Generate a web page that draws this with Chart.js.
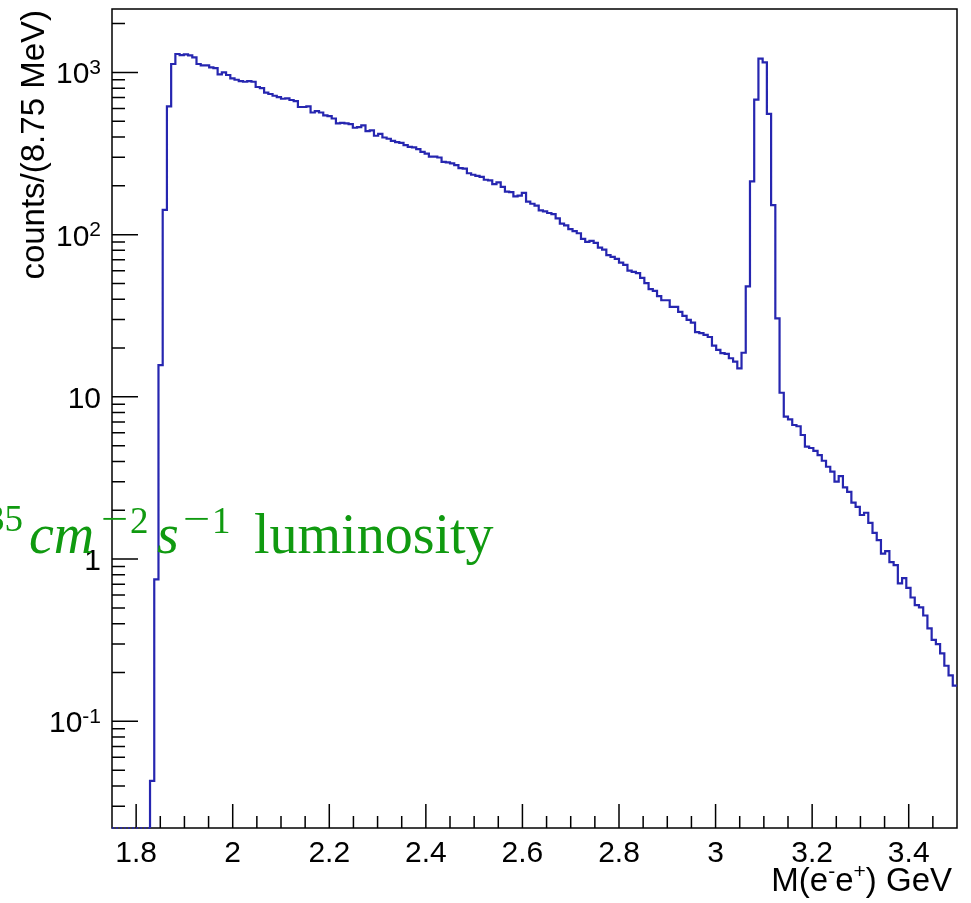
<!DOCTYPE html>
<html>
<head>
<meta charset="utf-8">
<script src="https://cdn.jsdelivr.net/npm/chart.js@4.4.1/dist/chart.umd.min.js"></script>
<style>
  html, body { margin: 0; padding: 0; background: #fff; }
  #wrap { width: 971px; height: 903px; }
</style>
</head>
<body>
<div id="wrap"><canvas id="chart" width="971" height="903"></canvas></div>
<script>
// 200 bins of 8.75 MeV between 1.75 and 3.5 GeV
const xMin = 1.75;
const xMax = 3.5;
const binWidth = 0.00875;

// counts per bin (0 = empty bin)
const counts = [
  0, 0, 0, 0, 0, 0, 0, 0, 0, 0.043,
  0.75, 15.7, 142, 617, 1127, 1299, 1280, 1291, 1273, 1237,
  1127, 1105, 1105, 1074, 1064, 972, 1000, 964, 918, 901,
  885, 876, 885, 876, 813, 801, 750, 736, 718, 705,
  688, 691, 676, 666, 612, 612, 617, 566, 578, 566,
  543, 538, 520, 485, 489, 485, 480, 456, 460, 471,
  435, 439, 407, 418, 397, 390, 379, 372, 368, 356,
  348, 345, 337, 324, 316, 303, 303, 299, 281, 279,
  275, 268, 257, 255, 239, 234, 230, 227, 218, 216,
  205, 210, 197, 184, 183, 172, 174, 181, 160, 155,
  151, 141, 139, 136, 134, 126, 117, 114, 108, 105,
  102, 94.2, 90.3, 91.6, 89.0, 83.2, 80.9, 74.7, 72.9, 70.9,
  67.3, 65.1, 60.0, 58.9, 57.9, 54.1, 50.3, 46.2, 45.0, 41.8,
  39.4, 39.4, 35.9, 35.9, 33.4, 31.6, 29.8, 28.7, 25.1, 24.7,
  24.1, 23.4, 20.7, 19.5, 18.6, 18.4, 17.3, 16.5, 15.0, 18.7,
  48.0, 213, 679, 1215, 1153, 556, 152, 30.5, 10.6, 7.55,
  7.27, 6.71, 6.59, 5.82, 4.93, 4.84, 4.64, 4.38, 4.04, 3.71,
  3.46, 3.00, 3.25, 2.77, 2.60, 2.23, 2.10, 1.87, 1.93, 1.67,
  1.45, 1.31, 1.08, 1.12, 0.958, 0.918, 0.708, 0.763, 0.665, 0.580,
  0.520, 0.504, 0.449, 0.374, 0.318, 0.299, 0.262, 0.220, 0.192, 0.166
];

const xMajorTicks = [1.8, 2.0, 2.2, 2.4, 2.6, 2.8, 3.0, 3.2, 3.4];
const xTickLabels = ['1.8', '2', '2.2', '2.4', '2.6', '2.8', '3', '3.2', '3.4'];
const yMajorTicks = [0.1, 1, 10, 100, 1000];
const yTickLabels = [['10', '-1'], ['1', ''], ['10', ''], ['10', '2'], ['10', '3']];
const yMin = 0.022;
const yMax = 2460;

const xTitle = ['M(e', '-', 'e', '+', ') GeV'];
const yTitle = 'counts/(8.75 MeV)';

const lineColor = '#2626b0';
const noteColor = '#109a10';

// histogram as a step line: one point per low edge, plus the closing edge
const FLOOR = 1e-4;
const histPoints = counts.map((c, i) => ({ x: xMin + i * binWidth, y: c > 0 ? c : FLOOR }));
histPoints.push({ x: xMax, y: counts[counts.length - 1] });

// empty bins are drawn dotted along the bottom, like ROOT does
const firstFilled = counts.findIndex(c => c > 0);
const emptyPoints = [{ x: xMin, y: yMin }, { x: xMin + firstFilled * binWidth, y: yMin }];

const SANS = '"Liberation Sans", Arial, Helvetica, sans-serif';
const SERIF = '"Liberation Serif", "Times New Roman", serif';

const rootFrame = {
  id: 'rootFrame',
  beforeDatasetsDraw(chart) {
    const { ctx, chartArea: a, scales: { x, y } } = chart;
    ctx.save();
    ctx.strokeStyle = '#000';
    ctx.lineWidth = 1.5;
    ctx.strokeRect(a.left, a.top, a.right - a.left, a.bottom - a.top);

    // tick marks, drawn inside the frame
    ctx.beginPath();
    for (let k = 1; k < 35; k++) {
      const v = xMin + k * 0.05;
      const px = x.getPixelForValue(v);
      const major = xMajorTicks.some(t => Math.abs(t - v) < 1e-6);
      ctx.moveTo(px, a.bottom);
      ctx.lineTo(px, a.bottom - (major ? 24 : 12));
    }
    for (let d = -2; d <= 3; d++) {
      for (let m = 1; m <= 9; m++) {
        const v = m * Math.pow(10, d);
        if (v < yMin || v > yMax) continue;
        const py = y.getPixelForValue(v);
        ctx.moveTo(a.left, py);
        ctx.lineTo(a.left + (m === 1 ? 26 : 13), py);
      }
    }
    ctx.stroke();
    ctx.restore();
  },
  afterDatasetsDraw(chart) {
    const { ctx, chartArea: a, scales: { x, y } } = chart;
    ctx.save();
    // tick labels
    ctx.fillStyle = '#000';
    ctx.font = '30px ' + SANS;
    ctx.textBaseline = 'alphabetic';
    ctx.textAlign = 'center';
    xMajorTicks.forEach((t, i) => {
      ctx.fillText(xTickLabels[i], x.getPixelForValue(t), a.bottom + 34);
    });
    ctx.textAlign = 'left';
    yMajorTicks.forEach((t, i) => {
      const [base, exp] = yTickLabels[i];
      const py = y.getPixelForValue(t);
      const right = 101;
      ctx.font = '21px ' + SANS;
      const ew = exp ? ctx.measureText(exp).width : 0;
      if (exp) ctx.fillText(exp, right - ew, py + 1.5);
      ctx.font = '30px ' + SANS;
      const bw = ctx.measureText(base).width;
      ctx.fillText(base, right - ew - bw, py + 11);
    });

    // axis titles
    ctx.font = '33px ' + SANS;
    ctx.save();
    ctx.translate(44, a.top + 1);
    ctx.rotate(-Math.PI / 2);
    ctx.textAlign = 'right';
    ctx.fillText(yTitle, 0, 0);
    ctx.restore();

    const big = '33px ' + SANS, small = '21px ' + SANS;
    const parts = xTitle.map((s, i) => ({ s, sup: i % 2 === 1 }));
    let total = 0;
    parts.forEach(p => { ctx.font = p.sup ? small : big; p.w = ctx.measureText(p.s).width; total += p.w; });
    let cx = 952 - total;
    parts.forEach(p => {
      ctx.font = p.sup ? small : big;
      ctx.fillText(p.s, cx, p.sup ? 878 : 891);
      cx += p.w;
    });

    // green annotation, its left part runs off the canvas
    ctx.fillStyle = noteColor;
    ctx.font = '37px ' + SERIF;
    const w35 = ctx.measureText('35').width;
    ctx.fillText('35', 23 - w35, 531);
    ctx.font = '56px ' + SERIF;
    ctx.fillText('10', 23 - w35 - ctx.measureText('10').width, 553);
    ctx.font = 'italic 56px ' + SERIF;
    ctx.fillText('cm', 29, 553);
    ctx.fillText('s', 157, 553);
    ctx.font = '37px ' + SERIF;
    ctx.save();
    ctx.translate(101, 531);
    ctx.scale(1.3, 1);
    ctx.fillText('\u2212', 0, 0);
    ctx.restore();
    ctx.fillText('2', 130, 533);
    ctx.save();
    ctx.translate(183, 531);
    ctx.scale(1.3, 1);
    ctx.fillText('\u2212', 0, 0);
    ctx.restore();
    ctx.fillText('1', 212, 533);
    ctx.font = '56px ' + SERIF;
    ctx.fillText('luminosity', 254, 553);
    ctx.restore();
  }
};

new Chart(document.getElementById('chart'), {
  type: 'line',
  data: {
    datasets: [
      {
        data: histPoints,
        stepped: 'before',
        borderColor: lineColor,
        borderWidth: 2.2,
        pointRadius: 0,
        fill: false
      },
      {
        data: emptyPoints,
        borderColor: lineColor,
        borderWidth: 1.5,
        borderDash: [2, 2],
        pointRadius: 0,
        fill: false,
        clip: false
      }
    ]
  },
  options: {
    responsive: false,
    animation: false,
    layout: { padding: { left: 112, right: 14, top: 9, bottom: 75 } },
    plugins: { legend: { display: false }, tooltip: { enabled: false } },
    scales: {
      x: { type: 'linear', min: xMin, max: xMax, display: false },
      y: { type: 'logarithmic', min: yMin, max: yMax, display: false }
    }
  },
  plugins: [rootFrame]
});
</script>
</body>
</html>
